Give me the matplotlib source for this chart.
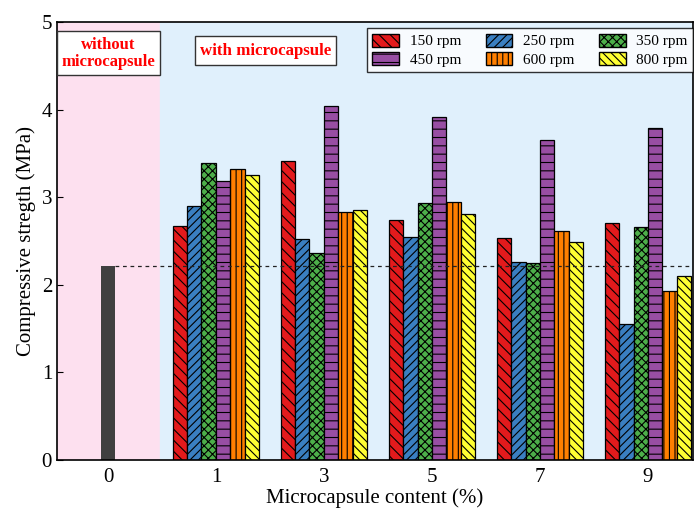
import matplotlib.pyplot as plt
import numpy as np
from matplotlib.patches import Patch, Rectangle

plt.rcParams["font.family"] = ["Liberation Serif", "DejaVu Serif"]
plt.rcParams["hatch.linewidth"] = 0.8

contents = ["0", "1", "3", "5", "7", "9"]
speeds = ["150 rpm", "250 rpm", "350 rpm", "450 rpm", "600 rpm", "800 rpm"]
control_strength = 2.21

s150 = [2.67, 3.41, 2.74, 2.53, 2.71]
s250 = [2.90, 2.52, 2.55, 2.26, 1.55]
s350 = [3.39, 2.36, 2.94, 2.25, 2.66]
s450 = [3.19, 4.04, 3.92, 3.65, 3.79]
s600 = [3.32, 2.83, 2.95, 2.62, 1.93]
s800 = [3.25, 2.85, 2.81, 2.49, 2.10]

colors = ["#e31a1c", "#3a7fc1", "#4daf4a", "#984ea3", "#ff7f00", "#ffff33"]
hatches = ["\\\\\\", "////", "xxxx", "--", "|||", "\\\\\\\\"]

fig = plt.figure(figsize=(6.94, 5.11), dpi=100)
ax = fig.add_axes([0.0821, 0.0998, 0.9165, 0.857])

x_left, x_right = -0.472, 5.417
split = 0.48
ax.axvspan(x_left, split, color="#fde0ef", zorder=0)
ax.axvspan(split, x_right, color="#e0f0fc", zorder=0)

width = 0.134
ax.bar(0, control_strength, width=width, color="#404040", zorder=2)

series = [s150, s250, s350, s450, s600, s800]
xs = np.arange(1, 6)
for i, vals in enumerate(series):
    offset = (i - 2.5) * width
    ax.bar(xs + offset, vals, width=width, color=colors[i], edgecolor="black",
           hatch=hatches[i], linewidth=0.9, zorder=2)

ax.axhline(control_strength, xmin=(width / 2 - x_left) / (x_right - x_left),
           color="#222222", linestyle=(0, (3, 3)), linewidth=0.9, zorder=3)

ax.set_xlim(x_left, x_right)
ax.set_ylim(0, 5)
ax.set_xticks(range(6))
ax.set_xticklabels(contents)
ax.set_yticks(range(6))
ax.tick_params(direction="in", labelsize=15, length=4)
ax.tick_params(axis="x", length=0, pad=6)
ax.set_xlabel("Microcapsule content (%)", fontsize=15, labelpad=1)
ax.set_ylabel("Compressive stregth (MPa)", fontsize=15)

for sp in ax.spines.values():
    sp.set_linewidth(1.2)

# label boxes for the two regions
ax.add_patch(Rectangle((x_left, 4.395), split - x_left, 0.505, facecolor="white",
                       edgecolor="#333333", linewidth=1.0, zorder=4))
ax.text((x_left + split) / 2, 4.645, "without\nmicrocapsule", color="red",
        fontweight="bold", fontsize=12, ha="center", va="center",
        linespacing=1.1, zorder=5)
ax.add_patch(Rectangle((0.806, 4.51), 1.305, 0.33, facecolor="white",
                       edgecolor="#333333", linewidth=1.0, zorder=4))
ax.text(0.806 + 1.305 / 2, 4.675, "with microcapsule", color="red",
        fontweight="bold", fontsize=12.2, ha="center", va="center", zorder=5)

handles = [Patch(facecolor=colors[i], edgecolor="black", hatch=hatches[i],
                 label=speeds[i]) for i in range(6)]
order = [0, 3, 1, 4, 2, 5]
leg = ax.legend([handles[i] for i in order], [speeds[i] for i in order],
                ncol=3, loc="upper right", bbox_to_anchor=(1.0, 0.986),
                fontsize=11, frameon=True, fancybox=False, edgecolor="black",
                handlelength=1.75, handleheight=0.95, columnspacing=1.6,
                handletextpad=0.7, labelspacing=0.25, borderpad=0.35,
                borderaxespad=0.0)
leg.get_frame().set_linewidth(1.0)

fig.savefig("out.png", dpi=100)
